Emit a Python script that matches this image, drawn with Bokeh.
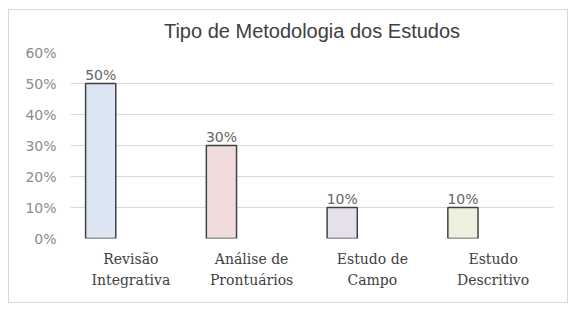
from bokeh.plotting import figure
from bokeh.models import ColumnDataSource, FixedTicker, LabelSet, NumeralTickFormatter
from bokeh.core.properties import value
from bokeh.embed import file_html
from bokeh.resources import INLINE

categories = ["Revisão\nIntegrativa", "Análise de\nProntuários", "Estudo de\nCampo", "Estudo\nDescritivo"]
values = [0.50, 0.30, 0.10, 0.10]
labels = ["50%", "30%", "10%", "10%"]
colors = ["#DCE6F2", "#F2DCDB", "#E6E0EC", "#EBF1DE"]
y_ticks = [0, 0.1, 0.2, 0.3, 0.4, 0.5, 0.6]

n = len(categories)
xpos = [i + 0.25 for i in range(n)]
src = ColumnDataSource(dict(x=xpos, top=values, color=colors, label=labels))

p = figure(width=560, height=294, output_backend="svg", toolbar_location=None,
           x_range=(0, n), y_range=(0, 0.6),
           min_border_left=61, min_border_right=16, min_border_top=41, min_border_bottom=66,
           title="Tipo de Metodologia dos Estudos")
p.margin = (9, 0, 0, 8)
p.styles = {"border": "1px solid #d9d9d9", "box-sizing": "border-box"}
p.title.align = "center"
p.title.vertical_align = "top"
p.title.text_font = "Liberation Sans"
p.title.text_font_size = "20px"
p.title.text_font_style = "normal"
p.title.text_color = "#404040"
p.title.standoff = 18

p.outline_line_color = None
p.background_fill_color = "white"
p.border_fill_color = "white"

p.vbar(x="x", top="top", width=0.25, bottom=0, fill_color="color",
       line_color="#404040", line_width=1.5, source=src)

p.add_layout(LabelSet(x="x", y="top", text="label", source=src, text_align="center",
                      text_baseline="bottom", y_offset=1, text_font=value("DejaVu Sans"),
                      text_font_size=value("14px"), text_color=value("#666666")))

# x axis
p.xaxis.ticker = FixedTicker(ticks=[i + 0.5 for i in range(n)])
p.xaxis.major_label_overrides = {i + 0.5: c for i, c in enumerate(categories)}
p.xaxis.axis_line_color = None
p.xaxis.major_tick_line_color = None
p.xaxis.minor_tick_line_color = None
p.xaxis.major_label_text_font = "DejaVu Serif"
p.xaxis.major_label_text_font_size = "14px"
p.xaxis.major_label_text_color = "#404040"
p.xaxis.major_label_text_line_height = 1.35
p.xaxis.major_label_standoff = 6
p.xgrid.grid_line_color = None

# y axis
p.yaxis.ticker = FixedTicker(ticks=y_ticks)
p.yaxis.formatter = NumeralTickFormatter(format="0%")
p.yaxis.axis_line_color = None
p.yaxis.major_tick_line_color = None
p.yaxis.minor_tick_line_color = None
p.yaxis.major_label_text_font = "DejaVu Sans"
p.yaxis.major_label_text_font_size = "14px"
p.yaxis.major_label_text_color = "#8c8c8c"
p.yaxis.major_label_standoff = 8
p.ygrid.grid_line_color = "#d9d9d9"
p.ygrid.grid_line_width = 1

open("out.html", "w").write(file_html(p, INLINE))
